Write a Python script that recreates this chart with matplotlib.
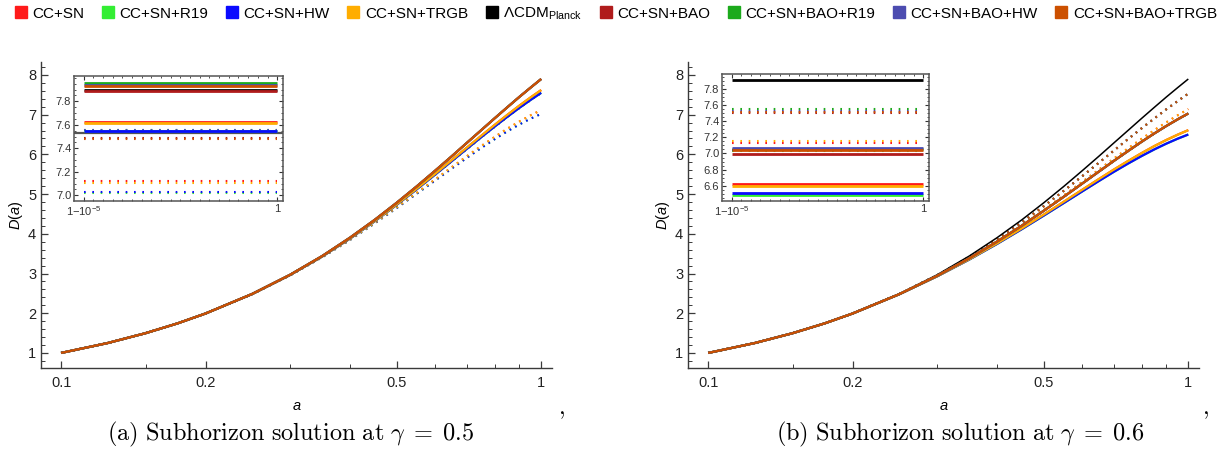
import numpy as np
import matplotlib
matplotlib.use('Agg')
import matplotlib.pyplot as plt
from matplotlib.lines import Line2D
from matplotlib.ticker import FixedLocator, NullFormatter, MultipleLocator

plt.rcParams['font.family'] = ['Liberation Sans', 'DejaVu Sans']
plt.rcParams['mathtext.fontset'] = 'custom'
plt.rcParams['mathtext.rm'] = 'Liberation Sans'
plt.rcParams['mathtext.it'] = 'Liberation Sans:italic'

# ---------------------------------------------------------
# Data
# ---------------------------------------------------------
names = ['CC+SN', 'CC+SN+R19', 'CC+SN+HW', 'CC+SN+TRGB', 'ΛCDM$_{\\mathrm{Planck}}$',
         'CC+SN+BAO', 'CC+SN+BAO+R19', 'CC+SN+BAO+HW', 'CC+SN+BAO+TRGB']
colors = ['#ff1a1a', '#33ee33', '#0a0aff', '#ffad00', '#000000',
          '#b01c1c', '#1caa1c', '#4c4cb0', '#cc5000']

a_grid = [0.1, 0.125, 0.15, 0.175, 0.2, 0.25, 0.3, 0.35, 0.4, 0.45, 0.5,
          0.55, 0.6, 0.65, 0.7, 0.75, 0.8, 0.85, 0.9, 0.95, 1.0]

D_lcdm = [1.0, 1.249, 1.498, 1.746, 1.994, 2.485, 2.969, 3.442, 3.905, 4.351, 4.781,
          5.190, 5.579, 5.944, 6.289, 6.609, 6.909, 7.186, 7.444, 7.679, 7.898]

# gamma = 0.5 panel
L_midhi = [1.0, 1.249, 1.498, 1.746, 1.994, 2.484, 2.965, 3.432, 3.887, 4.323, 4.739,
           5.132, 5.501, 5.847, 6.170, 6.467, 6.742, 6.994, 7.224, 7.432, 7.620]
L_midlo = [1.0, 1.249, 1.498, 1.746, 1.994, 2.483, 2.964, 3.430, 3.882, 4.316, 4.729,
           5.117, 5.482, 5.822, 6.139, 6.432, 6.700, 6.946, 7.169, 7.369, 7.550]
L_dothi = [1.0, 1.249, 1.498, 1.746, 1.994, 2.481, 2.957, 3.415, 3.854, 4.273, 4.664,
           5.026, 5.360, 5.670, 5.952, 6.210, 6.439, 6.646, 6.825, 6.982, 7.115]
L_dotlo = [1.0, 1.249, 1.498, 1.746, 1.994, 2.481, 2.956, 3.411, 3.848, 4.263, 4.649,
           5.006, 5.333, 5.637, 5.912, 6.161, 6.382, 6.580, 6.750, 6.898, 7.020]

# gamma = 0.6 panel
R_dotbao = [1.0, 1.249, 1.498, 1.746, 1.994, 2.483, 2.959, 3.418, 3.864, 4.289, 4.696,
            5.080, 5.442, 5.781, 6.097, 6.389, 6.659, 6.907, 7.135, 7.341, 7.530]
R_dothi = [1.0, 1.249, 1.498, 1.746, 1.994, 2.480, 2.948, 3.393, 3.820, 4.224, 4.606,
           4.963, 5.298, 5.607, 5.894, 6.155, 6.394, 6.611, 6.807, 6.982, 7.140]
R_bao = [1.0, 1.249, 1.498, 1.746, 1.994, 2.480, 2.945, 3.386, 3.808, 4.205, 4.580,
         4.930, 5.257, 5.559, 5.837, 6.089, 6.320, 6.528, 6.715, 6.881, 7.030]
R_hi = [1.0, 1.249, 1.498, 1.746, 1.994, 2.477, 2.933, 3.360, 3.761, 4.135, 4.483,
        4.805, 5.101, 5.372, 5.618, 5.837, 6.034, 6.210, 6.362, 6.495, 6.610]
R_lo = [1.0, 1.249, 1.498, 1.746, 1.994, 2.477, 2.930, 3.353, 3.748, 4.116, 4.458,
        4.772, 5.060, 5.323, 5.561, 5.772, 5.960, 6.126, 6.270, 6.394, 6.500]

# which curve each series follows (None = not drawn)
L_solid_curve = [L_midhi, L_midlo, L_midlo, L_midhi, D_lcdm, D_lcdm, D_lcdm, D_lcdm, D_lcdm]
L_dot_curve = [L_dothi, L_dotlo, L_dotlo, L_dothi, None, L_midlo, L_midlo, L_midlo, L_midlo]
R_solid_curve = [R_hi, R_lo, R_lo, R_hi, D_lcdm, R_bao, R_bao, R_bao, R_bao]
R_dot_curve = [R_dothi, R_bao, R_bao, R_dothi, None, R_dotbao, R_dotbao, R_dotbao, R_dotbao]

# insets: D at a in [1-1e-5, 1]
inset_a = [1 - 1e-5, 1.0]
L_inset_solid = [7.624, 7.545, 7.550, 7.613, 7.900, 7.888, 7.953, 7.942, 7.930]
L_inset_dot = [7.122, 7.020, 7.026, 7.108, None, 7.484, 7.556, 7.552, 7.480]
R_inset_solid = [6.621, 6.490, 6.514, 6.600, 7.908, 6.997, 7.060, 7.066, 7.040]
R_inset_dot = [7.130, 7.030, 7.045, 7.153, None, 7.505, 7.555, 7.530, 7.510]

captions = [r'$\mathrm{(a)\ Subhorizon\ solution\ at}\ \gamma\;=\;0.5$',
            r'$\mathrm{(b)\ Subhorizon\ solution\ at}\ \gamma\;=\;0.6$']

AX_COL = '#3a3a3a'


def style_main(ax):
    ax.set_xscale('log')
    ax.set_xlim(0.0908, 1.054)
    ax.set_ylim(0.62, 8.33)
    for s in ['top', 'right']:
        ax.spines[s].set_visible(False)
    for s in ['left', 'bottom']:
        ax.spines[s].set_color(AX_COL)
        ax.spines[s].set_linewidth(1.0)
    ax.xaxis.set_major_locator(FixedLocator([0.1, 0.2, 0.5, 1.0]))
    ax.xaxis.set_minor_locator(FixedLocator([0.15, 0.3, 0.4, 0.6, 0.7, 0.8, 0.9]))
    ax.xaxis.set_minor_formatter(NullFormatter())
    ax.set_xticklabels(['0.1', '0.2', '0.5', '1'])
    ax.yaxis.set_major_locator(FixedLocator([1, 2, 3, 4, 5, 6, 7, 8]))
    ax.yaxis.set_minor_locator(MultipleLocator(0.2))
    ax.tick_params(which='both', direction='in', color=AX_COL, labelsize=10.5, labelcolor='#222222')
    ax.tick_params(which='major', length=5, width=0.9)
    ax.tick_params(which='minor', length=3, width=0.7)
    ax.tick_params(axis='x', pad=6)
    ax.set_xlabel('$\\it{a}$', fontsize=10.5, labelpad=6)
    ax.set_ylabel('$\\it{D}$$(\\it{a})$', fontsize=10.5, labelpad=2)


def style_inset(ax, ylo, yhi, yt):
    ax.set_xlim(1 - 1.05e-5, 1 + 0.03e-5)
    ax.set_ylim(ylo, yhi)
    for s in ax.spines.values():
        s.set_color('#555555')
        s.set_linewidth(1.1)
    ax.set_xticks(inset_a)
    ax.set_xticklabels(['1\u2212$10^{-5}$', '1'])
    ax.xaxis.set_minor_locator(FixedLocator(list(np.linspace(inset_a[0], inset_a[1], 21))))
    ax.set_yticks(yt)
    ax.set_yticklabels(['%.1f' % v for v in yt])
    ax.yaxis.set_minor_locator(MultipleLocator(0.05))
    ax.tick_params(which='both', direction='in', top=True, right=True, color='#333333',
                   labelsize=8, labelcolor='#333333', pad=2)
    ax.tick_params(which='major', length=3, width=0.8)
    ax.tick_params(which='minor', length=1.5, width=0.6)


fig = plt.figure(figsize=(12.2, 4.57), dpi=100)
axL = fig.add_axes([0.0336, 0.1947, 0.419, 0.670])
axR = fig.add_axes([0.564, 0.1947, 0.419, 0.670])

for ax, sol, dot in [(axL, L_solid_curve, L_dot_curve), (axR, R_solid_curve, R_dot_curve)]:
    for i in range(len(names)):
        if dot[i] is not None:
            ax.plot(a_grid, dot[i], color=colors[i], lw=1.5, ls=(0, (0.8, 2.2)), zorder=2)
    for i in range(len(names)):
        lw = 1.1 if i == 4 else 1.6
        ax.plot(a_grid, sol[i], color=colors[i], lw=lw, zorder=3 if i != 4 else 2.5,
                solid_capstyle='butt')
    style_main(ax)

# insets
insL = fig.add_axes([74 / 1220, 1 - 201 / 457, 209 / 1220, 125 / 457])
insR = fig.add_axes([722 / 1220, 1 - 201 / 457, 207 / 1220, 127 / 457])

for ins, sol, dot in [(insL, L_inset_solid, L_inset_dot), (insR, R_inset_solid, R_inset_dot)]:
    for i in range(len(names)):
        if dot[i] is not None:
            ins.plot(inset_a, [dot[i]] * 2, color=colors[i], lw=1.5, ls=(0, (0.8, 3.2)))
    for i in range(len(names)):
        ins.plot(inset_a, [sol[i]] * 2, color=colors[i], lw=2.0, solid_capstyle='butt')

insL.axhline(7.532, color='#555555', lw=1.6, zorder=1)
style_inset(insL, 6.952, 8.015, [7.0, 7.2, 7.4, 7.6, 7.8])
style_inset(insR, 6.41, 7.987, [6.6, 6.8, 7.0, 7.2, 7.4, 7.6, 7.8])

# legend
handles = [Line2D([], [], ls='none', marker='s', markersize=8.5, markerfacecolor=c,
                  markeredgecolor=c) for c in colors]
fig.legend(handles, names, loc='upper left', bbox_to_anchor=(0.007, 1.001), ncol=9,
           frameon=False, fontsize=11, handlelength=0.8, handletextpad=0.35,
           columnspacing=1.15, borderaxespad=0.0)

# captions and commas
fig.text(291 / 1220, 1 - 434 / 457, captions[0], ha='center', va='center', fontsize=17.5,
         math_fontfamily='cm')
fig.text(960 / 1220, 1 - 434 / 457, captions[1], ha='center', va='center', fontsize=17.5,
         math_fontfamily='cm')
fig.text(561 / 1220, 1 - 410 / 457, '$,$', ha='center', va='center', fontsize=17,
         math_fontfamily='cm')
fig.text(1205 / 1220, 1 - 410 / 457, '$,$', ha='center', va='center', fontsize=17,
         math_fontfamily='cm')

fig.savefig('out.png', dpi=100)
